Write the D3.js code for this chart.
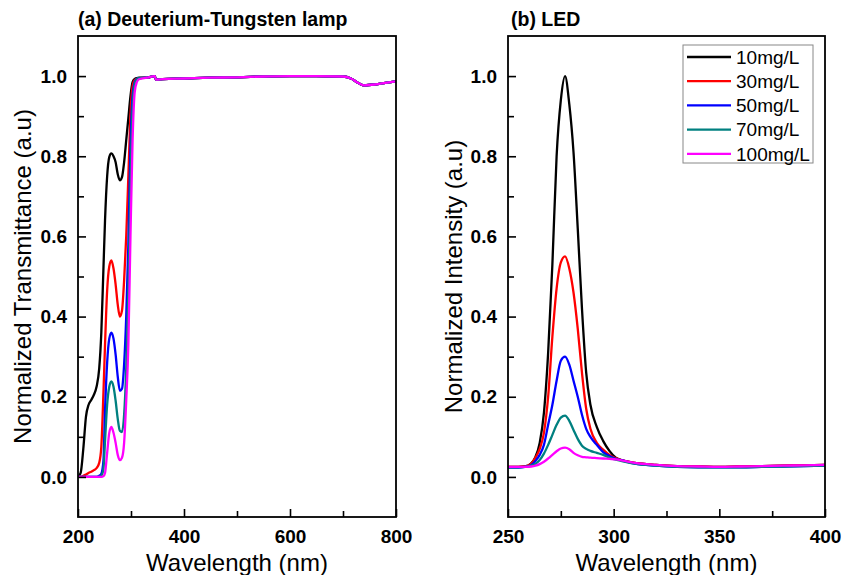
<!DOCTYPE html>
<html><head><meta charset="utf-8">
<script src="https://cdn.jsdelivr.net/npm/d3@7"></script>
<style>body{margin:0;background:#fff}svg{display:block;font-family:"Liberation Sans",Arial,Helvetica,sans-serif}</style>
</head><body><svg id="c" width="842" height="575"></svg>
<script>
// ---------- Panel (a): Deuterium-Tungsten lamp ----------
const wlA = [200,205,210,215,220,225,230,235,240,244,248,251,255,259,263,267,271,275,279,283,287,291,295,299,303,307,311,315,
             330,345,347,360,400,450,500,550,600,650,700,715,730,740,760,780,800];
const tailA = [0.996,1.0,0.991,0.9925,0.994,0.996,0.997,0.999,1.0,1.0,0.999,0.994,0.982,0.977,0.979,0.983,0.987];
const transBlack = [0,0.01,0.07,0.15,0.18,0.192,0.205,0.225,0.27,0.36,0.52,0.64,0.75,0.798,0.807,0.80,0.785,0.755,0.74,0.748,0.785,0.84,0.895,0.95,0.985,0.993,0.995,0.996].concat(tailA);
const transRed   = [0,0,0.003,0.006,0.01,0.013,0.017,0.022,0.035,0.075,0.21,0.33,0.465,0.525,0.54,0.52,0.48,0.43,0.40,0.415,0.49,0.60,0.75,0.905,0.975,0.99,0.993,0.995].concat(tailA);
const transBlue  = [0,0,0,0,0,0,0,0,0.003,0.008,0.04,0.165,0.285,0.345,0.36,0.345,0.305,0.25,0.215,0.22,0.28,0.40,0.58,0.82,0.95,0.985,0.993,0.995].concat(tailA);
const transTeal  = [0,0,0,0,0,0,0,0,0,0.003,0.02,0.09,0.18,0.225,0.238,0.225,0.19,0.145,0.115,0.112,0.155,0.27,0.46,0.73,0.92,0.98,0.992,0.995].concat(tailA);
const transMag   = [0,0,0,0,0,0,0,0,0,0,0.002,0.01,0.06,0.11,0.125,0.11,0.085,0.055,0.042,0.048,0.085,0.19,0.33,0.60,0.84,0.96,0.985,0.992].concat(tailA);

// ---------- Panel (b): LED ----------
const wlB = [250,255,258,261,263,265,267,269,271,273,275,277,279,281,283,285,287,289,292,295,298,301,305,
             310,320,330,340,350,360,370,380,390,400];
const tailB = [0.035,0.03,0.027,0.026,0.025,0.026,0.027,0.028,0.029,0.03];
const tailBlow = [0.033,0.028,0.025,0.024,0.024,0.024,0.025,0.026,0.027,0.028];
const ledBlack = [0.025,0.025,0.026,0.034,0.05,0.085,0.16,0.31,0.53,0.80,0.94,1.0,0.93,0.81,0.62,0.42,0.26,0.18,0.125,0.09,0.065,0.048,0.04].concat(tailB);
const ledRed   = [0.025,0.025,0.026,0.033,0.048,0.07,0.11,0.20,0.35,0.47,0.535,0.55,0.52,0.46,0.37,0.26,0.17,0.12,0.085,0.068,0.055,0.047,0.04].concat(tailB);
const ledBlue  = [0.023,0.023,0.025,0.03,0.04,0.055,0.08,0.13,0.18,0.24,0.29,0.30,0.28,0.24,0.20,0.155,0.12,0.10,0.08,0.062,0.052,0.045,0.04].concat(tailBlow);
const ledTeal  = [0.024,0.024,0.025,0.028,0.033,0.042,0.058,0.08,0.105,0.13,0.148,0.153,0.14,0.117,0.095,0.078,0.07,0.065,0.06,0.055,0.048,0.043,0.038].concat(tailBlow);
const ledMag   = [0.025,0.025,0.025,0.026,0.028,0.032,0.038,0.046,0.055,0.064,0.071,0.073,0.069,0.06,0.054,0.05,0.049,0.048,0.047,0.046,0.045,0.044,0.04].concat(tailB);

const seriesNames = ["10mg/L","30mg/L","50mg/L","70mg/L","100mg/L"];
const seriesColors = ["#000000","#ff0000","#0000ff","#008080","#ff00ff"];
const yTicks = [0.0,0.2,0.4,0.6,0.8,1.0];
const yMinor = [0.1,0.3,0.5,0.7,0.9];
const xTicksA = [200,400,600,800], xMinorA = [300,500,700];
const xTicksB = [250,300,350,400], xMinorB = [275,325,375];

const svg = d3.select("#c");
const FONT = '"Liberation Sans",Arial,Helvetica,sans-serif';

function panel(cfg){
  const {left,right,top,bottom} = cfg;
  const x = d3.scaleLinear().domain(cfg.xDomain).range([left,right]);
  const y = d3.scaleLinear().domain([-0.1,1.1]).range([bottom,top]);
  const g = svg.append("g");
  const clipId = "clip"+cfg.id;
  svg.append("clipPath").attr("id",clipId).append("rect")
     .attr("x",left).attr("y",top).attr("width",right-left).attr("height",bottom-top);
  const line = d3.line().x(d=>x(d[0])).y(d=>y(d[1])).curve(d3.curveMonotoneX);
  const lg = g.append("g").attr("clip-path","url(#"+clipId+")");
  cfg.series.forEach((s,i)=>{
    lg.append("path").datum(cfg.wl.map((w,k)=>[w,s[k]]))
      .attr("d",line).attr("fill","none").attr("stroke",seriesColors[i])
      .attr("stroke-width",2.3).attr("stroke-linejoin","round");
  });
  g.append("g").attr("transform",`translate(0,${bottom})`)
     .call(d3.axisBottom(x).tickValues(cfg.xTicks).tickSize(-8).tickPadding(13).tickFormat(d3.format("d")));
  g.append("g").attr("transform",`translate(0,${bottom})`)
     .call(d3.axisBottom(x).tickValues(cfg.xMinor).tickSize(-6).tickFormat(""));
  g.append("g").attr("transform",`translate(${left},0)`)
     .call(d3.axisLeft(y).tickValues(yTicks).tickSize(-8).tickPadding(11).tickFormat(d3.format(".1f")));
  g.append("g").attr("transform",`translate(${left},0)`)
     .call(d3.axisLeft(y).tickValues(yMinor).tickSize(-6).tickFormat(""));
  g.selectAll(".domain").remove();
  g.selectAll(".tick line").attr("stroke","#000").attr("stroke-width",1.6);
  g.selectAll(".tick text").attr("font-family",FONT).attr("font-size",19).attr("font-weight","bold").attr("fill","#000");
  g.append("rect").attr("x",left).attr("y",top).attr("width",right-left).attr("height",bottom-top)
   .attr("fill","none").attr("stroke","#000").attr("stroke-width",1.8);
  g.append("text").attr("x",cfg.titleX).attr("y",26).attr("font-family",FONT).attr("font-size",19.5)
   .attr("font-weight","bold").text(cfg.title);
  g.append("text").attr("x",(left+right)/2).attr("y",571).attr("text-anchor","middle")
   .attr("font-family",FONT).attr("font-size",24).text("Wavelength (nm)");
  g.append("text").attr("transform",`translate(${cfg.ylabX},${(top+bottom)/2}) rotate(-90)`)
   .attr("text-anchor","middle").attr("dy","0.35em").attr("font-family",FONT).attr("font-size",24).text(cfg.ylab);
  return {x,y,g};
}

panel({id:"a",left:78,right:396,top:36,bottom:517,xDomain:[200,800],wl:wlA,
  series:[transBlack,transRed,transBlue,transTeal,transMag],xTicks:xTicksA,xMinor:xMinorA,
  title:"(a) Deuterium-Tungsten lamp",titleX:78,ylab:"Normalized Transmittance (a.u)",ylabX:23});
panel({id:"b",left:508,right:825,top:36,bottom:517,xDomain:[250,400],wl:wlB,
  series:[ledBlack,ledRed,ledBlue,ledTeal,ledMag],xTicks:xTicksB,xMinor:xMinorB,
  title:"(b) LED",titleX:511,ylab:"Normalized Intensity (a.u)",ylabX:454});

const lgd = svg.append("g");
lgd.append("rect").attr("x",683).attr("y",45).attr("width",130).attr("height",118)
   .attr("fill","#fff").attr("stroke","#888").attr("stroke-width",1);
seriesNames.forEach((n,i)=>{
  const yy = 57 + i*24.2;
  lgd.append("line").attr("x1",687).attr("x2",731).attr("y1",yy).attr("y2",yy)
     .attr("stroke",seriesColors[i]).attr("stroke-width",2.3);
  lgd.append("text").attr("x",736).attr("y",yy).attr("dy","0.36em").attr("font-family",FONT)
     .attr("font-size",19).text(n);
});
</script></body></html>
